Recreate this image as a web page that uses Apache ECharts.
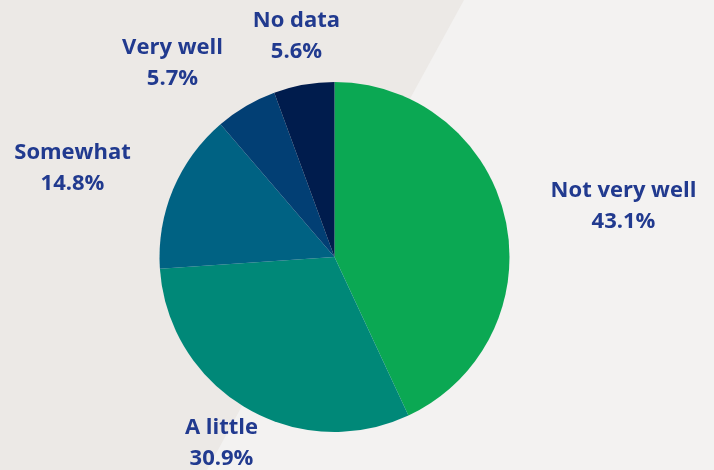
<!DOCTYPE html>
<html>
<head>
<meta charset="utf-8">
<script src="https://cdn.jsdelivr.net/npm/echarts@6/dist/echarts.min.js"></script>
<style>
  html, body { margin: 0; padding: 0; background: #f3f2f1; }
  #chart { width: 714px; height: 470px; }
</style>
</head>
<body>
<div id="chart"></div>
<script>
// Survey answers, share of respondents (%)
const categories = ['Not very well', 'A little', 'Somewhat', 'Very well', 'No data'];
const shares = [43.1, 30.9, 14.8, 5.7, 5.6];
const sliceColors = ['#0ba853', '#008878', '#006283', '#023f74', '#001c4d'];

// Label anchors, offsets from the pie centre (px)
const labelOffsets = [[289, -51], [-113, 186], [-262, -89], [-162, -194], [-38, -221]];

const CX = 334.5, CY = 257, R = 175;

const chart = echarts.init(document.getElementById('chart'), null, { renderer: 'canvas' });

chart.setOption({
  backgroundColor: '#f3f2f1',
  animation: false,
  graphic: [{
    type: 'polygon',
    silent: true,
    z: -10,
    shape: { points: [[0, 0], [464, 0], [207, 470], [0, 470]] },
    style: { fill: '#ece9e6' }
  }],
  series: [{
    type: 'pie',
    center: [CX, CY],
    radius: R,
    startAngle: 90,
    clockwise: true,
    avoidLabelOverlap: false,
    itemStyle: { borderWidth: 0 },
    emphasis: { disabled: true },
    labelLine: { show: false },
    label: {
      show: true,
      position: 'outside',
      fontFamily: '"Open Sans", sans-serif',
      fontWeight: 'bold',
      fontSize: 22,
      lineHeight: 31,
      color: '#213a8f',
      align: 'center',
      formatter: p => p.name + '\n' + p.value.toFixed(1) + '%'
    },
    labelLayout: p => {
      const off = labelOffsets[p.dataIndex];
      return { x: CX + off[0], y: CY + off[1], align: 'center', verticalAlign: 'middle' };
    },
    data: categories.map((name, i) => ({
      name: name,
      value: shares[i],
      itemStyle: { color: sliceColors[i] }
    }))
  }]
});
</script>
</body>
</html>
